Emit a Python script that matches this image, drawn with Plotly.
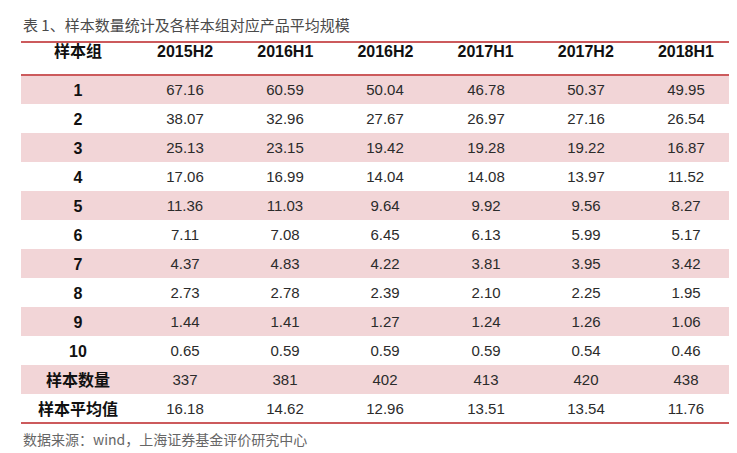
import plotly.graph_objects as go

# ---- data ----
row_labels = ["1", "2", "3", "4", "5", "6", "7", "8", "9", "10", "样本数量", "样本平均值"]
periods = ["2015H2", "2016H1", "2016H2", "2017H1", "2017H2", "2018H1"]
v_2015H2 = ["67.16", "38.07", "25.13", "17.06", "11.36", "7.11", "4.37", "2.73", "1.44", "0.65", "337", "16.18"]
v_2016H1 = ["60.59", "32.96", "23.15", "16.99", "11.03", "7.08", "4.83", "2.78", "1.41", "0.59", "381", "14.62"]
v_2016H2 = ["50.04", "27.67", "19.42", "14.04", "9.64", "6.45", "4.22", "2.39", "1.27", "0.59", "402", "12.96"]
v_2017H1 = ["46.78", "26.97", "19.28", "14.08", "9.92", "6.13", "3.81", "2.10", "1.24", "0.59", "413", "13.51"]
v_2017H2 = ["50.37", "27.16", "19.22", "13.97", "9.56", "5.99", "3.95", "2.25", "1.26", "0.54", "420", "13.54"]
v_2018H1 = ["49.95", "26.54", "16.87", "11.52", "8.27", "5.17", "3.42", "1.95", "1.06", "0.46", "438", "11.76"]
first_header = "样本组"
title_text = "表 1、样本数量统计及各样本组对应产品平均规模"
source_text = "数据来源：wind，上海证券基金评价研究中心"

value_cols = [v_2015H2, v_2016H1, v_2016H2, v_2017H1, v_2017H2, v_2018H1]

# ---- style ----
W, H = 737, 453
ML, MR = 13, 9
TOP_LINE, HEADER_BOTTOM, TABLE_BOTTOM = 34, 67, 415
MT, MB = HEADER_BOTTOM, H - TABLE_BOTTOM
FIRST_COL_W, COL_W = 114, 100
PINK = "#f2d5d7"
RED = "#cc5a5c"
CJK = "Noto Sans CJK SC"
NUM_FONT = "Liberation Sans, " + CJK

n_rows = len(row_labels)
stripe = [1 if i % 2 == 0 else 0 for i in range(n_rows)]
plot_w = W - ML - MR
plot_h = H - MT - MB
split = FIRST_COL_W / plot_w

scale = [[0, "white"], [1, PINK]]

fig = go.Figure()

# first column (row labels)
fig.add_trace(go.Heatmap(
    x=["<b>" + first_header + "</b>"],
    y=row_labels,
    z=[[s] for s in stripe],
    text=[["<b>" + r + "</b>"] for r in row_labels],
    texttemplate="%{text}",
    textfont=dict(family=NUM_FONT, size=16, color="#111111"),
    colorscale=scale, zmin=0, zmax=1, showscale=False,
    hoverinfo="skip", xaxis="x", yaxis="y",
))

# value columns
fig.add_trace(go.Heatmap(
    x=["<b>" + p + "</b>" for p in periods],
    y=row_labels,
    z=[[s] * len(periods) for s in stripe],
    text=[list(r) for r in zip(*value_cols)],
    texttemplate="%{text}",
    textfont=dict(family=NUM_FONT, size=15, color="#2b2b2b"),
    colorscale=scale, zmin=0, zmax=1, showscale=False,
    hoverinfo="skip", xaxis="x2", yaxis="y",
))

axis_common = dict(side="top", showgrid=False, zeroline=False, showline=False,
                   ticks="", ticklabelstandoff=14,
                   tickfont=dict(family=NUM_FONT, size=16, color="#111111"),
                   fixedrange=True)
fig.update_layout(
    xaxis=dict(domain=[0, split], anchor="y", **axis_common),
    xaxis2=dict(domain=[split, 1], anchor="y", **axis_common),
    yaxis=dict(autorange="reversed", showticklabels=False, showgrid=False,
               zeroline=False, showline=False, ticks="", fixedrange=True),
)


def py(px):
    return 1 - (px - MT) / plot_h


for yy in [TOP_LINE, HEADER_BOTTOM, TABLE_BOTTOM]:
    fig.add_shape(type="line", xref="paper", yref="paper", x0=0, x1=1,
                  y0=py(yy), y1=py(yy), line=dict(color=RED, width=2), layer="above")

fig.add_annotation(text=title_text, xref="paper", yref="paper", x=0, y=py(17),
                   xanchor="left", yanchor="middle", showarrow=False,
                   font=dict(family=CJK, size=15, color="#4a4a4a"))
fig.add_annotation(text=source_text, xref="paper", yref="paper", x=0, y=py(431),
                   xanchor="left", yanchor="middle", showarrow=False,
                   font=dict(family=CJK, size=14, color="#666666"))

fig.update_layout(width=W, height=H, margin=dict(l=ML, r=MR, t=MT, b=MB),
                  paper_bgcolor="white", plot_bgcolor="white")
fig.write_html("out.html")
